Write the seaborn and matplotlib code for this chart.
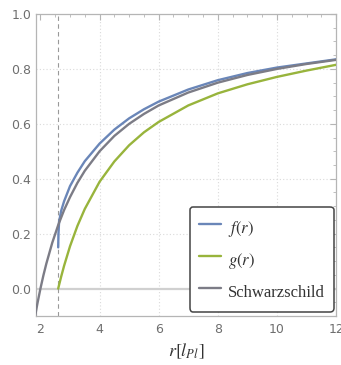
import numpy as np
import pandas as pd
import matplotlib
matplotlib.use("Agg")
import matplotlib.pyplot as plt
import seaborn as sns
from matplotlib.ticker import MultipleLocator

# values
r_f = [2.6, 2.61, 2.63, 2.7, 2.8, 3.0, 3.25, 3.5, 4.0, 4.5, 5.0, 5.5, 6.0, 7.0, 8.0, 9.0, 10.0, 11.0, 12.0]
f_vals = [0.15, 0.20, 0.243, 0.283, 0.318, 0.373, 0.422, 0.464, 0.528, 0.579, 0.620, 0.653, 0.681,
          0.725, 0.759, 0.785, 0.805, 0.820, 0.835]

r_g = [2.6, 2.7, 2.8, 3.0, 3.25, 3.5, 4.0, 4.5, 5.0, 5.5, 6.0, 7.0, 8.0, 9.0, 10.0, 11.0, 12.0]
g_vals = [0.0, 0.043, 0.083, 0.154, 0.228, 0.290, 0.389, 0.463, 0.522, 0.569, 0.607, 0.667,
          0.711, 0.744, 0.771, 0.794, 0.815]

r_s = [1.8, 1.9, 2.0, 2.1, 2.2, 2.4, 2.6, 2.8, 3.0, 3.25, 3.5, 4.0, 4.5, 5.0, 5.5, 6.0, 7.0,
       8.0, 9.0, 10.0, 11.0, 12.0]
s_vals = [-0.111, -0.053, 0.0, 0.048, 0.091, 0.167, 0.231, 0.286, 0.333, 0.385, 0.429, 0.5,
          0.556, 0.6, 0.636, 0.667, 0.714, 0.75, 0.778, 0.8, 0.818, 0.833]

r_min = 2.6  # dashed vertical line

curves = ["$f(r)$", "$g(r)$", "Schwarzschild"]
colors = {"$f(r)$": "#6a86b8", "$g(r)$": "#98b43c", "Schwarzschild": "#7c7c86"}

df = pd.concat([
    pd.DataFrame({"r": r_f, "y": f_vals, "curve": curves[0]}),
    pd.DataFrame({"r": r_g, "y": g_vals, "curve": curves[1]}),
    pd.DataFrame({"r": r_s, "y": s_vals, "curve": curves[2]}),
])

sns.set_theme(style="white")
plt.rcParams["font.family"] = ["DejaVu Sans"]
plt.rcParams["mathtext.fontset"] = "stix"

fig = plt.figure(figsize=(3.41, 3.65), dpi=100)
ax = fig.add_axes([0.1056, 0.1342, 0.88, 0.8274])

for gx in [4, 6, 8, 10]:
    ax.axvline(gx, color="#dadada", lw=0.8, ls=(0, (1, 2)), zorder=0)
for gy in [0.2, 0.4, 0.6, 0.8]:
    ax.axhline(gy, color="#dadada", lw=0.8, ls=(0, (1, 2)), zorder=0)
ax.axhline(0.0, color="#d0d0d0", lw=1.6, zorder=1)
ax.axvline(r_min, color="#999999", lw=0.8, ls=(0, (4, 3)), zorder=1)

sns.lineplot(data=df, x="r", y="y", hue="curve", hue_order=curves, palette=colors,
             sort=False, estimator=None, lw=1.7, ax=ax, zorder=3)

ax.set_xlim(1.85, 12)
ax.set_ylim(-0.1, 1.0)
ax.xaxis.set_major_locator(MultipleLocator(2))
ax.xaxis.set_minor_locator(MultipleLocator(0.5))
ax.yaxis.set_major_locator(MultipleLocator(0.2))
ax.yaxis.set_minor_locator(MultipleLocator(0.05))
ax.yaxis.set_major_formatter(matplotlib.ticker.FormatStrFormatter("%.1f"))
ax.tick_params(which="both", direction="in", top=True, right=True, colors="#b5b5b5",
               labelcolor="#6e6e6e", labelsize=9)
ax.tick_params(which="major", length=4, width=0.8)
ax.tick_params(which="minor", length=2, width=0.6)
ax.tick_params(axis="x", pad=5)
for sp in ax.spines.values():
    sp.set_color("#b5b5b5")
    sp.set_linewidth(0.9)

ax.set_xlabel("$r[l_{Pl}]$", fontsize=13, color="#333333", labelpad=4)
ax.set_ylabel("")

handles, labels = ax.get_legend_handles_labels()
leg = ax.legend(handles, labels, loc="lower right", bbox_to_anchor=(0.992, 0.014),
                borderaxespad=0, prop={"family": "Liberation Serif", "size": 12},
                handlelength=1.3, handleheight=1.7, handletextpad=0.4, labelspacing=0.56,
                borderpad=0.55, frameon=True, fancybox=True, framealpha=1)
leg.get_frame().set_edgecolor("#444444")
leg.get_frame().set_linewidth(1.1)
for t in leg.get_texts():
    t.set_color("#333333")

fig.savefig("out.png", dpi=100)
